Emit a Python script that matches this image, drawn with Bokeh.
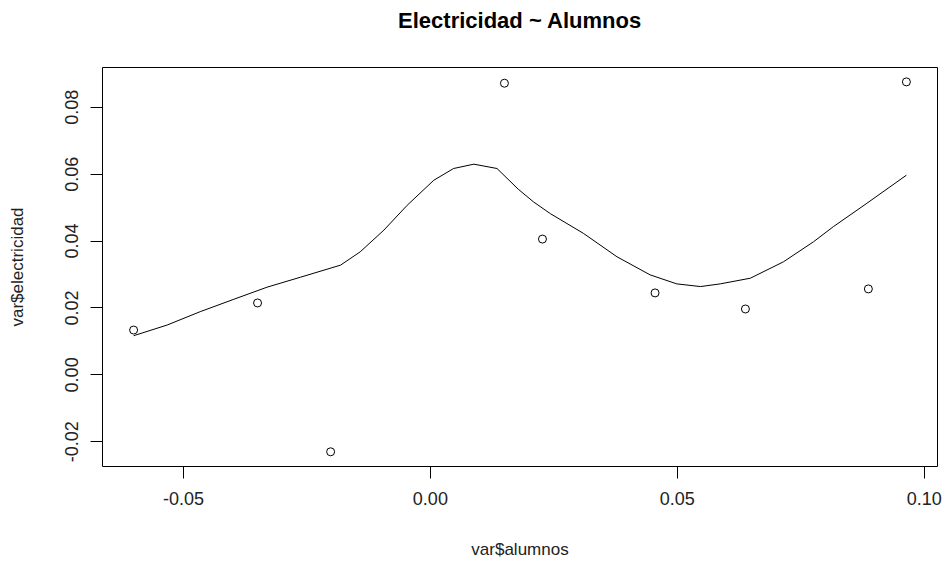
from bokeh.plotting import figure
from bokeh.models import Range1d, FixedTicker, NumeralTickFormatter, Title
from bokeh.embed import file_html
from bokeh.resources import INLINE

# Observed points
alumnos = [-0.0601, -0.0350, -0.0202, 0.0150, 0.0227, 0.0455, 0.0638, 0.0887, 0.0964]
electricidad = [0.0134, 0.0215, -0.0230, 0.0872, 0.0406, 0.0245, 0.0197, 0.0257, 0.0876]

# Smoothed curve
curve_x = [-0.0601, -0.0533, -0.0466, -0.0398, -0.0331, -0.0263, -0.0182, -0.0142,
           -0.0094, -0.0047, 0.0007, 0.0047, 0.0088, 0.0135, 0.0178, 0.0209, 0.0243,
           0.0310, 0.0378, 0.0445, 0.0499, 0.0547, 0.0587, 0.0648, 0.0715, 0.0776,
           0.0816, 0.0884, 0.0964]
curve_y = [0.0117, 0.0149, 0.0189, 0.0226, 0.0262, 0.0292, 0.0328, 0.0368,
           0.0433, 0.0507, 0.0582, 0.0617, 0.0630, 0.0617, 0.0555, 0.0517, 0.0482,
           0.0423, 0.0353, 0.0299, 0.0272, 0.0264, 0.0272, 0.0289, 0.0338, 0.0398,
           0.0443, 0.0513, 0.0597]

x_ticks = [-0.05, 0.00, 0.05, 0.10]
y_ticks = [-0.02, 0.00, 0.02, 0.04, 0.06, 0.08]

FONT = "Liberation Sans"

p = figure(width=946, height=563, output_backend="svg", toolbar_location=None,
           x_range=Range1d(-0.0664, 0.1027), y_range=Range1d(-0.0274, 0.0919),
           min_border_left=102, min_border_right=9, min_border_top=67, min_border_bottom=97,
           title="Electricidad ~ Alumnos")

p.background_fill_color = "white"
p.border_fill_color = "white"
p.outline_line_color = "black"
p.outline_line_width = 1
p.grid.visible = False

p.title.align = "center"
p.title.text_font = FONT
p.title.text_font_size = "22px"
p.title.text_font_style = "bold"
p.title.text_color = "black"
p.title.standoff = 10

# empty spacer between title and frame
p.add_layout(Title(text=" ", text_font_size="1px", standoff=27), "above")

for ax in (p.xaxis[0], p.yaxis[0]):
    ax.axis_line_color = None
    ax.major_tick_line_color = "black"
    ax.major_tick_in = 0
    ax.major_tick_out = 12
    ax.minor_tick_line_color = None
    ax.major_label_text_font = FONT
    ax.major_label_text_font_size = "18px"
    ax.major_label_text_color = "#222222"
    ax.axis_label_text_font = FONT
    ax.axis_label_text_font_size = "17px"
    ax.axis_label_text_font_style = "normal"
    ax.axis_label_text_color = "#222222"
    ax.formatter = NumeralTickFormatter(format="0.00")

p.xaxis[0].ticker = FixedTicker(ticks=x_ticks)
p.yaxis[0].ticker = FixedTicker(ticks=y_ticks)
p.xaxis[0].axis_label = "var$alumnos"
p.yaxis[0].axis_label = "var$electricidad"
p.xaxis[0].major_label_standoff = 13
p.xaxis[0].axis_label_standoff = 32
p.yaxis[0].major_label_orientation = "vertical"
p.yaxis[0].major_label_standoff = 12
p.yaxis[0].axis_label_standoff = 36

p.line(curve_x, curve_y, line_color="black", line_width=1)
p.scatter(alumnos, electricidad, size=8, marker="circle", fill_color=None,
          line_color="black", line_width=1)

open("out.html", "w").write(file_html(p, INLINE))
